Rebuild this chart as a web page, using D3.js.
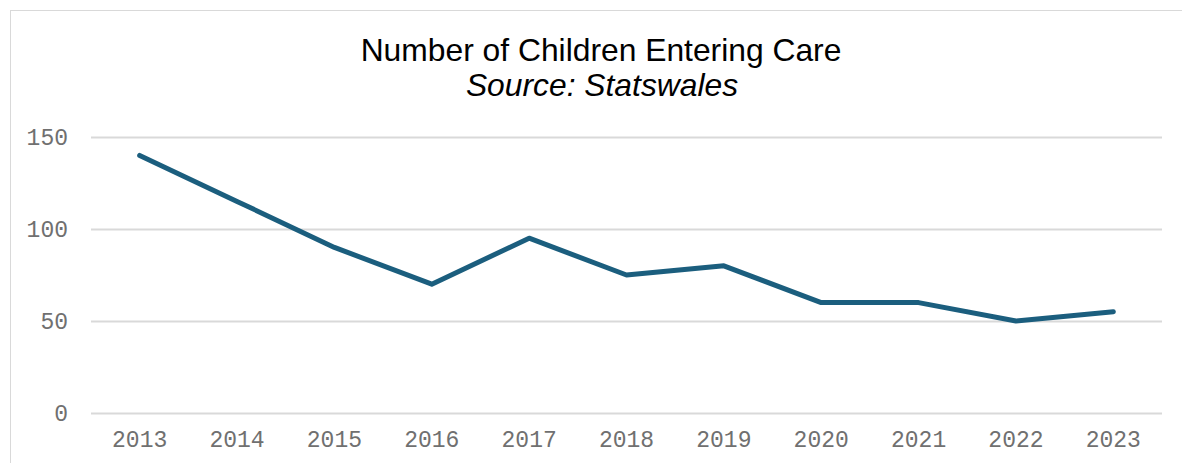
<!DOCTYPE html>
<html>
<head>
<meta charset="utf-8">
<script src="https://cdn.jsdelivr.net/npm/d3@7"></script>
<style>
  body { margin: 0; background: #ffffff; }
  svg { display: block; }
</style>
</head>
<body>
<svg id="chart"></svg>
<script>
// data
var years = ["2013", "2014", "2015", "2016", "2017", "2018", "2019", "2020", "2021", "2022", "2023"];
var children = [140, 115, 90, 70, 95, 75, 80, 60, 60, 50, 55];
var yTicks = [0, 50, 100, 150];

var title = "Number of Children Entering Care";
var subtitle = "Source: Statswales";

var W = 1182, H = 463;
var margin = { top: 137, right: 20, bottom: 50, left: 91 };
var width = 1162 - margin.left;
var height = 413 - margin.top;

var svg = d3.select("#chart")
    .attr("width", W)
    .attr("height", H);

// chart area border (only top + left show in the frame)
svg.append("rect")
    .attr("x", 10.5)
    .attr("y", 10.5)
    .attr("width", W + 20)
    .attr("height", H + 20)
    .attr("fill", "none")
    .attr("stroke", "#d9d9d9")
    .attr("stroke-width", 1);

var g = svg.append("g")
    .attr("transform", `translate(${margin.left},${margin.top})`);

var xScale = d3.scaleBand()
    .domain(years)
    .range([0, width])
    .padding(0);

var yScale = d3.scaleLinear()
    .domain([0, 150])
    .range([height, 0]);

// gridlines
g.append("g")
    .selectAll("line")
    .data(yTicks)
    .enter().append("line")
    .attr("x1", 0)
    .attr("x2", width)
    .attr("y1", d => Math.round(yScale(d)) + 0.5)
    .attr("y2", d => Math.round(yScale(d)) + 0.5)
    .attr("stroke", "#d9d9d9")
    .attr("stroke-width", 2);

// y axis labels
var yAxis = g.append("g")
    .call(d3.axisLeft(yScale).tickValues(yTicks).tickSize(0).tickPadding(23));
yAxis.select(".domain").remove();
yAxis.selectAll("text")
    .attr("font-family", "'Liberation Mono', 'Courier New', monospace")
    .attr("font-size", "23px")
    .attr("fill", "#707070");

// x axis labels
var xAxis = g.append("g")
    .attr("transform", `translate(0,${height})`)
    .call(d3.axisBottom(xScale).tickSize(0).tickPadding(18));
xAxis.select(".domain").remove();
xAxis.selectAll("text")
    .attr("font-family", "'Liberation Mono', 'Courier New', monospace")
    .attr("font-size", "23px")
    .attr("fill", "#707070");

// the line
var line = d3.line()
    .x((d, i) => xScale(years[i]) + xScale.bandwidth() / 2)
    .y(d => yScale(d));

g.append("path")
    .datum(children)
    .attr("fill", "none")
    .attr("stroke", "#1b5e7e")
    .attr("stroke-width", 5)
    .attr("stroke-linejoin", "round")
    .attr("stroke-linecap", "round")
    .attr("d", line);

// titles
svg.append("text")
    .attr("x", 601)
    .attr("y", 61)
    .attr("text-anchor", "middle")
    .attr("font-family", "'Liberation Sans', Arial, sans-serif")
    .attr("font-size", "31.8px")
    .attr("fill", "#000000")
    .text(title);

svg.append("text")
    .attr("x", 602)
    .attr("y", 96)
    .attr("text-anchor", "middle")
    .attr("font-family", "'Liberation Sans', Arial, sans-serif")
    .attr("font-style", "italic")
    .attr("font-size", "31.8px")
    .attr("fill", "#000000")
    .text(subtitle);
</script>
</body>
</html>
